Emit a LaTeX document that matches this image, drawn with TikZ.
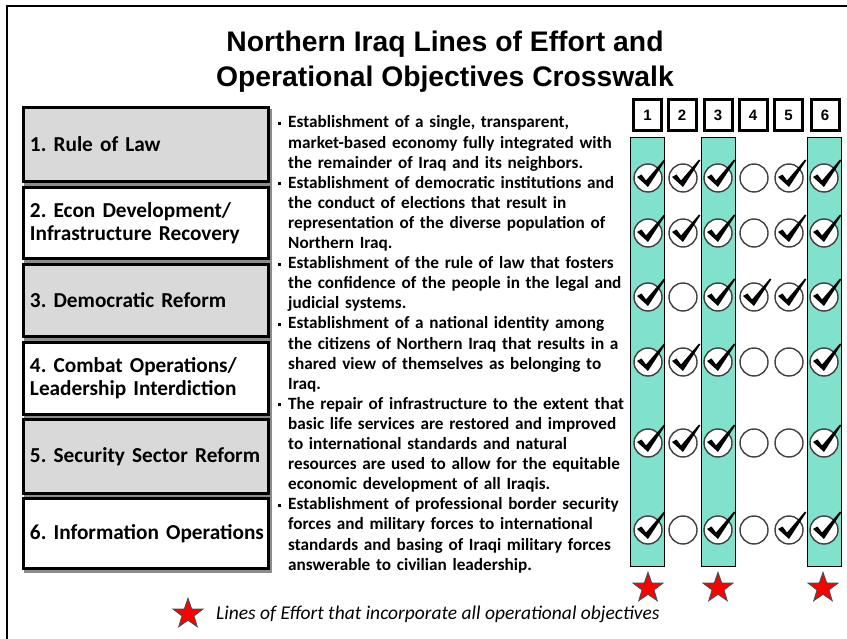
\documentclass[tikz,border=0pt]{standalone}
\usepackage{fontspec}
\setmainfont{Carlito}
\newfontfamily\arialfont{Liberation Sans}
\usetikzlibrary{shapes.geometric}
\definecolor{aqua}{RGB}{128,226,204}
\definecolor{boxgray}{RGB}{217,217,217}
\newcommand\bpt{\makebox[10pt][l]{\rule[3pt]{3pt}{3pt}}}
\newcommand\bcont{\hspace*{10pt}}
\frenchspacing
\begin{document}
\begin{tikzpicture}
[
 x=1pt, y=-1pt,
 inner sep=0pt,
 TITLE/.style={font=\arialfont\bfseries\fontsize{28.3}{34.5}\selectfont, align=center, anchor=north},
 LOE/.style={rectangle, draw=black, line width=3pt, text width=232pt, inner xsep=6.5pt, align=left, font=\bfseries\fontsize{21.3}{23}\selectfont},
 OBJ/.style={anchor=base west, text width=360pt, align=left, font=\bfseries\fontsize{17.2}{20.1}\selectfont},
 HDR/.style={rectangle, draw=black, fill=white, line width=3pt, minimum width=28, minimum height=31, font=\arialfont\bfseries\fontsize{15}{15}\selectfont},
 COLUMN/.style={rectangle, draw=black, fill=aqua, line width=1.2pt, minimum width=34, minimum height=429},
 CIRC/.style={circle, draw=black!75, fill=white, line width=1.4pt, minimum size=28},
 STAR/.style={star, star points=5, star point ratio=2.5, draw=black!70, fill=red, line width=1pt, minimum size=31},
 LEGEND/.style={anchor=west, font=\itshape\fontsize{19.5}{21}\selectfont},
 ]
\useasboundingbox (0,0) rectangle (847,639);
%
\draw [line width=2.5pt]  (7,639) -- (7,6) -- (847,6);
%
\node [TITLE] (TTL) at (445,31) {Northern Iraq Lines of Effort and\\Operational Objectives  Crosswalk};
%
\fill [black!45]  (24,109) rectangle (272,573);
\foreach \n/\t/\b/\c/\txt in {
   1/106/183/boxgray/{1. Rule of Law},
   2/186/260/white/{2. Econ Development/\\Infrastructure Recovery},
   3/263/338/boxgray/{3. Democratic Reform},
   4/341/416/white/{4. Combat Operations/\\Leadership Interdiction},
   5/418/495/boxgray/{\mbox{5. Security Sector Reform}},
   6/497/570/white/{\mbox{6. Information Operations}}}
      {
        \node [LOE, fill=\c, minimum height={\b-\t-3}]  (L\n)  at (146, {(\t+\b)/2})  {\txt};
       }
%
\node [OBJ] (OBJ) at (278,128) {%
\bpt Establishment of a single, transparent,\\
\bcont market-based economy fully integrated with\\
\bcont the remainder of Iraq and its neighbors.\\
\bpt Establishment of democratic institutions and\\
\bcont the conduct of elections that result in\\
\bcont representation of the diverse population of\\
\bcont Northern Iraq.\\
\bpt Establishment of the rule of law that fosters\\
\bcont the confidence of the people in the legal and\\
\bcont judicial systems.\\
\bpt Establishment of a national identity among\\
\bcont the citizens of Northern Iraq that results in a\\
\bcont shared view of themselves as belonging to\\
\bcont Iraq.\\
\bpt The repair of infrastructure to the extent that\\
\bcont basic life services are restored and improved\\
\bcont to international standards and natural\\
\bcont resources are used to allow for the equitable\\
\bcont economic development of all Iraqis.\\
\bpt Establishment of professional border security\\
\bcont forces and military forces to international\\
\bcont standards and basing of Iraqi military forces\\
\bcont answerable to civilian leadership.};
%
\foreach \n/\x in {1/647.5, 2/682, 3/718, 4/753, 5/788.5, 6/825}
      {
        \node [HDR]  (H\n)  at (\x,115)  {\n};
       }
%
\foreach \n/\x in {1/647.5, 3/718.5, 6/824.5}
      {
        \node [COLUMN]  (C\n)  at (\x,352)  {};
       }
%
\foreach \r/\y in {1/178, 2/233, 3/297, 4/362, 5/443, 6/530}
   \foreach \c/\x in {1/648, 2/683, 3/718, 4/754, 5/789, 6/824}
      {
        \node [CIRC]  (K\r\c)  at (\x,\y)  {};
       }
%
\foreach \k in {11,12,13,15,16, 21,22,23,25,26, 31,33,34,35,36, 41,42,43,46, 51,52,53,56, 61,63,65,66}
      {
        \fill [shift={(K\k.center)}]  (-11,-1) -- (-6.5,-3.5) -- (-2,2.5) -- (16,-18.5) -- (17.3,-17.5) -- (0,9) -- cycle;
       }
%
\foreach \n/\x in {1/648, 3/718, 6/823}
      {
        \node [STAR]  (S\n)  at (\x,588)  {};
       }
\node [STAR]    (SL)  at (188,614)  {};
\node [LEGEND]  (LG)  at (216,614)  {Lines of Effort that incorporate all operational objectives};
%
\end{tikzpicture}
\end{document}
